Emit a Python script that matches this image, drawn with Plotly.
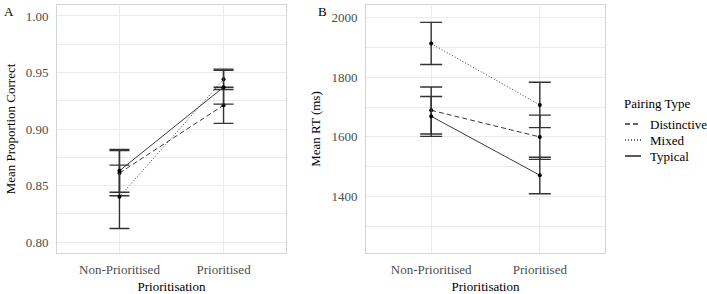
import plotly.graph_objects as go

categories = ["Non-Prioritised", "Prioritised"]
groups = ["Distinctive", "Mixed", "Typical"]
dashes = {"Distinctive": "5px,3px", "Mixed": "1px,2px", "Typical": "solid"}

# Panel A: mean proportion correct, with CI bounds
acc_mean = {"Distinctive": [0.861, 0.921], "Mixed": [0.840, 0.944], "Typical": [0.863, 0.937]}
acc_low = {"Distinctive": [0.841, 0.905], "Mixed": [0.812, 0.935], "Typical": [0.844, 0.922]}
acc_high = {"Distinctive": [0.881, 0.937], "Mixed": [0.868, 0.953], "Typical": [0.882, 0.952]}

# Panel B: mean RT (ms), with CI bounds
rt_mean = {"Distinctive": [1689, 1600], "Mixed": [1912, 1707], "Typical": [1669, 1472]}
rt_low = {"Distinctive": [1610, 1525], "Mixed": [1842, 1631], "Typical": [1602, 1410]}
rt_high = {"Distinctive": [1767, 1673], "Mixed": [1983, 1783], "Typical": [1735, 1532]}

W, H = 707, 294
FONT = "Liberation Serif, Times New Roman, serif"
fig = go.Figure()

def add_panel(means, lows, highs, xa, ya, capw):
    for g in groups:
        m = means[g]
        fig.add_trace(go.Scatter(
            x=categories, y=m, xaxis=xa, yaxis=ya, mode="lines+markers",
            line=dict(color="#3a3a3a", width=1, dash=dashes[g]),
            marker=dict(color="black", size=4),
            error_y=dict(type="data", symmetric=False,
                         array=[h - v for h, v in zip(highs[g], m)],
                         arrayminus=[v - l for l, v in zip(lows[g], m)],
                         color="#333333", thickness=1.4, width=capw),
            showlegend=False, name=g))

add_panel(acc_mean, acc_low, acc_high, "x", "y", 10)
add_panel(rt_mean, rt_low, rt_high, "x2", "y2", 11)

ydom = [1 - 253 / H, 1 - 5 / H]
grid = "#ebebeb"
border = "#d4d4d4"
tickfont = dict(family=FONT, size=13, color="#4d4d4d")
titlefont = dict(family=FONT, size=13, color="black")

xcommon = dict(type="category", range=[-0.6, 1.6], showgrid=True, gridcolor=grid,
               showline=True, mirror=True, linecolor=border, linewidth=1,
               ticks="", tickfont=tickfont, ticklabelstandoff=4,
               title=dict(text="Prioritisation", font=titlefont, standoff=8),
               zeroline=False, fixedrange=True)
ycommon = dict(showgrid=True, gridcolor=grid, showline=True, mirror=True, linecolor=border,
               linewidth=1, ticks="", tickfont=tickfont, zeroline=False, ticklabelstandoff=5)

fig.update_layout(
    width=W, height=H, margin=dict(l=0, r=0, t=0, b=0),
    plot_bgcolor="white", paper_bgcolor="white",
    font=dict(family=FONT, size=13, color="black"),
    xaxis=dict(domain=[57 / W, 286 / W], anchor="y", **xcommon),
    xaxis2=dict(domain=[366 / W, 605 / W], anchor="y2", **xcommon),
    yaxis=dict(domain=ydom, anchor="x", range=[0.7903, 1.0097], tickvals=[0.80, 0.85, 0.90, 0.95, 1.00],
               ticktext=["0.80", "0.85", "0.90", "0.95", "1.00"],
               minor=dict(tickvals=[0.825, 0.875, 0.925, 0.975], showgrid=True, gridcolor=grid),
               title=dict(text="Mean Proportion Correct", font=titlefont, standoff=7), **ycommon),
    yaxis2=dict(domain=ydom, anchor="x2", range=[1212, 2041], tickvals=[1400, 1600, 1800, 2000],
                minor=dict(tickvals=[1300, 1500, 1700, 1900], showgrid=True, gridcolor=grid),
                title=dict(text="Mean RT (ms)", font=titlefont, standoff=7), **ycommon),
)

# Panel tags
fig.add_annotation(text="A", x=2 / W, y=1 - 2 / H, xref="paper", yref="paper",
                   xanchor="left", yanchor="top", showarrow=False, font=dict(family=FONT, size=13))
fig.add_annotation(text="B", x=316 / W, y=1 - 2 / H, xref="paper", yref="paper",
                   xanchor="left", yanchor="top", showarrow=False, font=dict(family=FONT, size=13))

# Legend (manual, ggplot style)
fig.add_annotation(text="Pairing Type", x=622 / W, y=1 - 103 / H, xref="paper", yref="paper",
                   xanchor="left", yanchor="middle", showarrow=False, font=dict(family=FONT, size=13))
rows = [124, 140, 156]
for g, ry in zip(groups, rows):
    fig.add_shape(type="line", xref="paper", yref="paper", x0=625 / W, x1=641 / W,
                  y0=1 - ry / H, y1=1 - ry / H,
                  line=dict(color="#333333", width=1.6, dash=dashes[g]))
    fig.add_annotation(text=g, x=648 / W, y=1 - ry / H, xref="paper", yref="paper",
                       xanchor="left", yanchor="middle", showarrow=False, font=dict(family=FONT, size=13))

fig.write_html("out.html")
